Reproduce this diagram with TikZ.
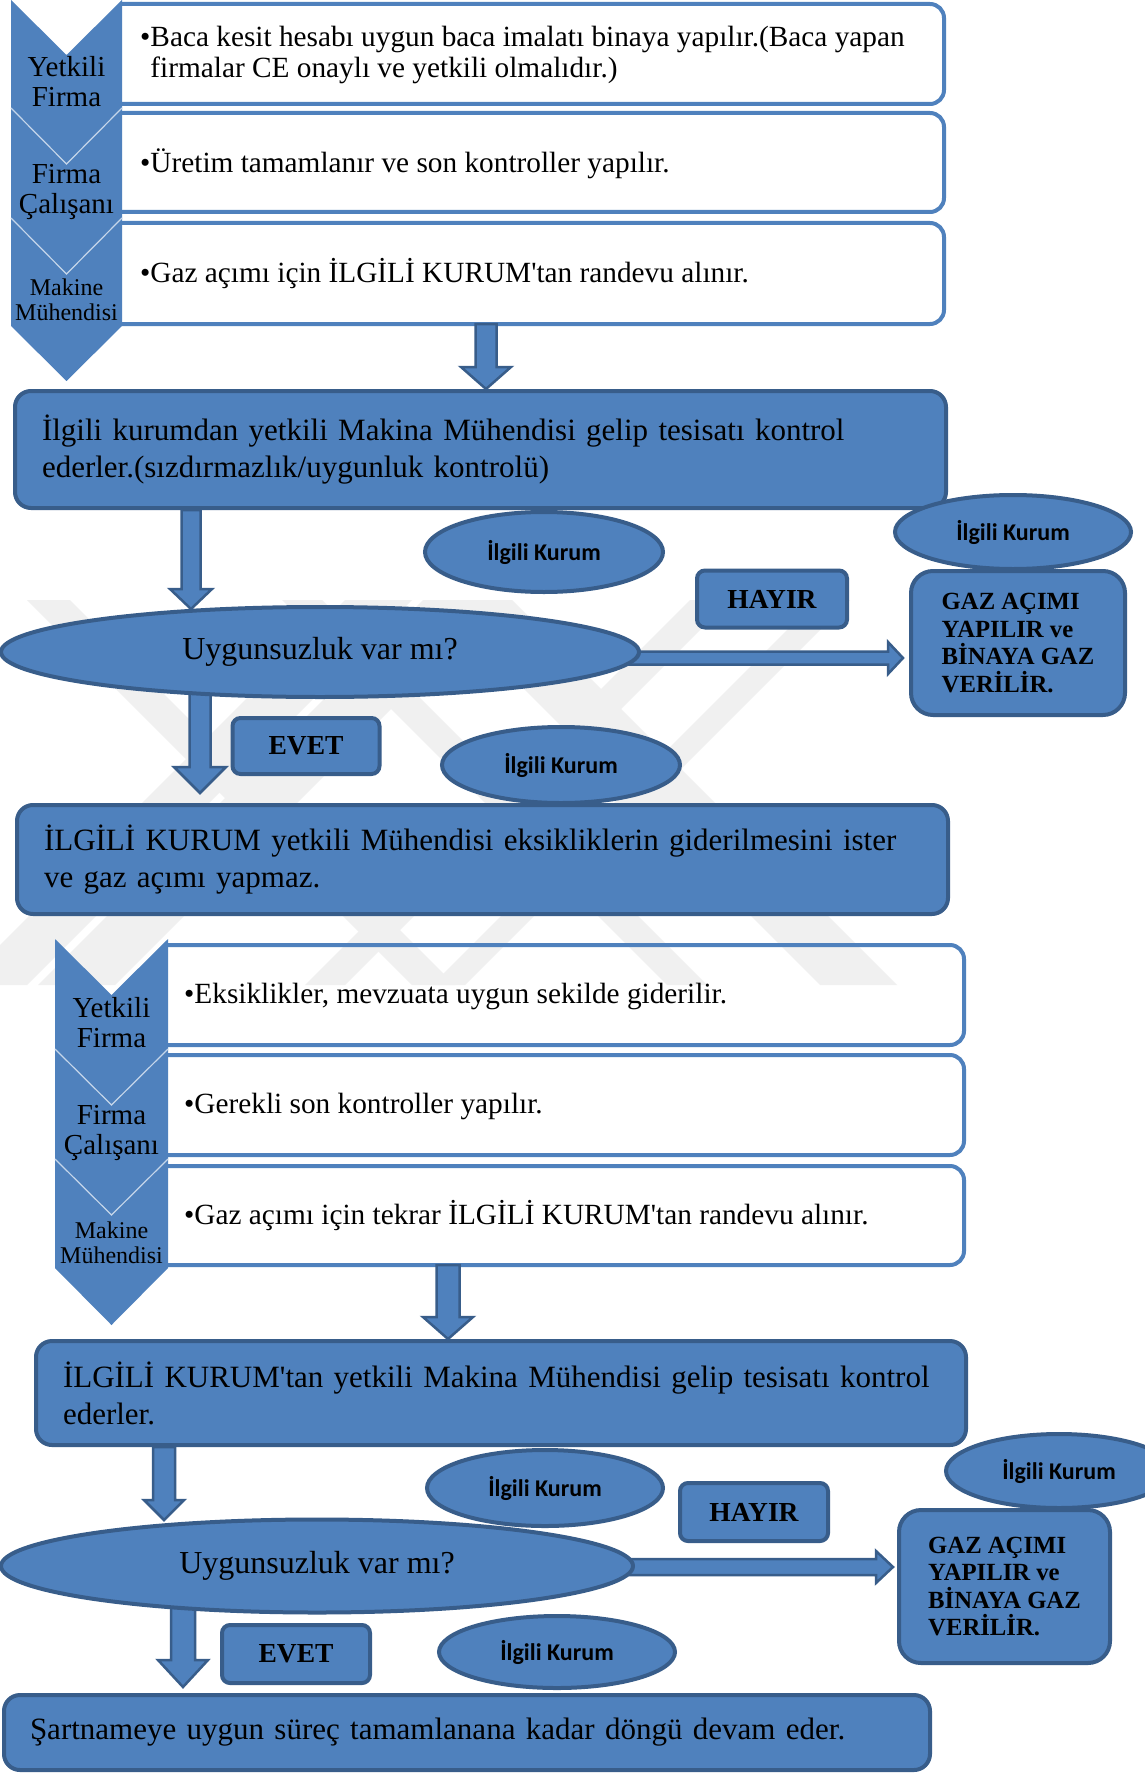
\documentclass[tikz,border=0pt]{standalone}
\usepackage{fontspec}
\setmainfont{Liberation Serif}
\newfontfamily\calib{Carlito}
\usetikzlibrary{shapes.geometric,calc}
\definecolor{bF}{HTML}{4F81BD}
\definecolor{bD}{HTML}{385D8A}
\definecolor{sepc}{HTML}{C6D6EA}
\definecolor{wmark}{HTML}{F0F0F0}
\newcommand{\vblk}[5]{\draw[barrow] let \p1=(#1), \p2=(#2) in (\x1-#3,\y1) -- (\x1+#3,\y1) -- (\x1+#3,\y2+#5) -- (\x1+#4,\y2+#5) -- (\x1,\y2) -- (\x1-#4,\y2+#5) -- (\x1-#3,\y2+#5) -- cycle;}
\newcommand{\hblk}[5]{\draw[barrow] let \p1=(#1), \p2=(#2) in (\x1,\y1+#3) -- (\x2-#5,\y1+#3) -- (\x2-#5,\y1+#4) -- (\x2,\y1) -- (\x2-#5,\y1-#4) -- (\x2-#5,\y1-#3) -- (\x1,\y1-#3) -- cycle;}
\newcommand{\wframe}[1]{\draw[wline] (#1.north west) -- (#1.north east) -- (#1.south east) -- (#1.south west);}
\newcommand{\bsband}[2]{\fill[wmark] (#1,600) -- (#2,600) -- (#2+385,985) -- (#1+385,985) -- cycle;}
\newcommand{\fsband}[2]{\fill[wmark] (#1,600) -- (#2,600) -- (#2-385,985) -- (#1-385,985) -- cycle;}
\begin{document}
\begin{tikzpicture}[x=1pt,y=-1pt,
 wbox/.style={anchor=north west, inner sep=0pt, outer sep=0pt},
 wline/.style={draw=bF, line width=4pt, rounded corners=14pt},
 wtext/.style={anchor=west, inner sep=0pt, align=left, font=\fontsize{29.3}{31}\selectfont},
 clab/.style={align=center, inner sep=0pt, font=\fontsize{29}{30}\selectfont},
 clabs/.style={align=center, inner sep=0pt, font=\fontsize{24}{25}\selectfont},
 mbox/.style={draw=bD, fill=bF, line width=4pt, rounded corners=16pt, anchor=north west, align=left, inner xsep=27pt, inner ysep=0pt, font=\fontsize{31}{37}\selectfont},
 ik/.style={ellipse, draw=bD, fill=bF, line width=4pt, inner sep=0pt, font=\calib\bfseries\fontsize{24}{28}\selectfont},
 lbox/.style={draw=bD, fill=bF, line width=4pt, rounded corners=8pt, inner sep=0pt, font=\bfseries\fontsize{27.5}{30}\selectfont},
 gbox/.style={draw=bD, fill=bF, line width=4pt, rounded corners=22pt, inner sep=0pt, align=left, font=\bfseries\fontsize{24.7}{27.5}\selectfont},
 dec/.style={ellipse, draw=bD, fill=bF, line width=4pt, inner sep=0pt, font=\fontsize{32}{36}\selectfont},
 barrow/.style={fill=bF, draw=bD, line width=2.5pt, line join=miter},
 chev/.style={fill=bF},
 sepl/.style={draw=sepc, line width=1.2pt}
]
\useasboundingbox (0,0) rectangle (1144,1776);
\fill[white] (0,0) rectangle (1144,1776);

% faint background watermark
\begin{scope}
\clip (0,600) rectangle (1144,985);
\bsband{27}{70}
\bsband{282}{322}
\bsband{435}{512}
\fsband{345}{412}
\fsband{423}{500}
\fsband{690}{730}
\fsband{817}{850}
\end{scope}

% ---------- group 1 ----------
\node[wbox, minimum width=824pt, minimum height=100pt] (b1) at (120,4) {};
\node[wbox, minimum width=824pt, minimum height=99pt] (b2) at (120,113) {};
\node[wbox, minimum width=824pt, minimum height=101pt] (b3) at (120,223) {};
\fill[white] (b1.north west) rectangle (b1.south east);
\fill[white] (b2.north west) rectangle (b2.south east);
\fill[white] (b3.north west) rectangle (b3.south east);
\wframe{b1}\wframe{b2}\wframe{b3}
\node[wtext] (t1) at (140,56) {•\begin{tabular}[t]{@{}l@{}}Baca kesit hesabı uygun baca imalatı binaya yapılır.(Baca yapan\\firmalar CE onaylı ve yetkili olmalıdır.)\end{tabular}};
\node[wtext] (t2) at (140,164) {•Üretim tamamlanır ve son kontroller yapılır.};
\node[wtext] (t3) at (140,274) {•Gaz açımı için İLGİLİ KURUM\textquotesingle tan randevu alınır.};
\fill[chev] (11,0) -- (66.5,55) -- (122,0) -- (122,326) -- (66.5,381) -- (11,326) -- cycle;
\draw[sepl] (11,108) -- (66.5,164) -- (122,108);
\draw[sepl] (11,218) -- (66.5,274) -- (122,218);
\node[clab] (c1) at (66.5,82) {Yetkili\\Firma};
\node[clab] (c2) at (66.5,192) {Firma\\Çalışanı};
\node[clabs] (c3) at (66.5,300) {Makine\\Mühendisi};

\node[mbox, minimum width=931pt, minimum height=117pt, text width=877pt] (m1) at (13,389) {İlgili kurumdan yetkili Makina Mühendisi gelip tesisatı kontrol\\ederler.(sızdırmazlık/uygunluk kontrolü)};

\node[ik, minimum width=238pt, minimum height=80pt] (k1) at (544,552) {İlgili Kurum};
\node[ik, minimum width=236pt, minimum height=74pt] (k2) at (1013,532) {İlgili Kurum};
\node[lbox, minimum width=150pt, minimum height=57pt] (h1) at (772,599) {HAYIR};
\node[gbox, minimum width=214pt, minimum height=144pt] (g1) at (1018,643) {GAZ AÇIMI\\YAPILIR ve\\BİNAYA GAZ\\VERİLİR.};
\node[lbox, minimum width=147pt, minimum height=56pt] (e1) at (306,746) {EVET};
\node[ik, minimum width=238pt, minimum height=76pt] (k3) at (561,765) {İlgili Kurum};
\node[mbox, minimum width=931pt, minimum height=109pt, text width=877pt] (m2) at (15,803) {İLGİLİ KURUM yetkili Mühendisi eksikliklerin giderilmesini ister\\ve gaz açımı yapmaz.};

\coordinate (s3) at (200,680);
\coordinate (tip3) at (200,793);
\vblk{s3}{tip3}{10.5}{26}{26}
\coordinate (hs1) at (600,658);
\hblk{hs1}{[xshift=-6pt]g1.west |- hs1}{6.5}{16}{15}
\node[dec, minimum width=638pt, minimum height=90pt] (d1) at (320,652) {Uygunsuzluk var mı?};

\coordinate (x1) at (486,0);
\vblk{b3.south -| x1}{m1.north -| x1}{10.5}{25}{22}
\coordinate (x2) at (191,0);
\coordinate (tip2) at (191,609);
\vblk{m1.south -| x2}{tip2}{9.5}{21}{20}

% ---------- group 2 ----------
\node[wbox, minimum width=798pt, minimum height=100pt] (b4) at (166,945) {};
\node[wbox, minimum width=798pt, minimum height=100pt] (b5) at (166,1055) {};
\node[wbox, minimum width=798pt, minimum height=99pt] (b6) at (166,1166) {};
\wframe{b4}\wframe{b5}\wframe{b6}
\node[wtext] (t4) at (184,996) {•Eksiklikler, mevzuata uygun sekilde giderilir.};
\node[wtext] (t5) at (184,1106) {•Gerekli son kontroller yapılır.};
\node[wtext] (t6) at (184,1216) {•Gaz açımı için tekrar İLGİLİ KURUM\textquotesingle tan randevu alınır.};
\fill[chev] (55,939) -- (111.5,995) -- (168,939) -- (168,1268) -- (111.5,1325) -- (55,1268) -- cycle;
\draw[sepl] (55,1049) -- (111.5,1105) -- (168,1049);
\draw[sepl] (55,1159) -- (111.5,1215) -- (168,1159);
\node[clab] (c4) at (111.5,1023) {Yetkili\\Firma};
\node[clab] (c5) at (111.5,1133) {Firma\\Çalışanı};
\node[clabs] (c6) at (111.5,1243) {Makine\\Mühendisi};

\node[mbox, minimum width=930pt, minimum height=104pt, text width=876pt] (m3) at (34,1339) {İLGİLİ KURUM\textquotesingle tan yetkili Makina Mühendisi gelip tesisatı kontrol\\ederler.};

\node[ik, minimum width=236pt, minimum height=76pt] (k4) at (545,1488) {İlgili Kurum};
\node[ik, minimum width=226pt, minimum height=74pt] (k5) at (1059,1471) {İlgili Kurum};
\node[lbox, minimum width=148pt, minimum height=58pt] (h2) at (754,1512) {HAYIR};
\node[gbox, minimum width=211pt, minimum height=153pt] (g2) at (1004.5,1586.5) {GAZ AÇIMI\\YAPILIR ve\\BİNAYA GAZ\\VERİLİR.};
\node[lbox, minimum width=148pt, minimum height=58pt] (e2) at (296,1654) {EVET};
\node[ik, minimum width=236pt, minimum height=72pt] (k6) at (557,1652) {İlgili Kurum};
\node[mbox, minimum width=926pt, minimum height=75pt, text width=874pt, inner xsep=26pt] (f) at (2,1693) {Şartnameye uygun süreç tamamlanana kadar döngü devam eder.};

\coordinate (s5) at (183,1595);
\coordinate (tip5) at (183,1687);
\vblk{s5}{tip5}{12}{25}{27}
\coordinate (hs2) at (600,1567);
\hblk{hs2}{[xshift=-4pt]g2.west |- hs2}{8}{16}{17}
\node[dec, minimum width=632pt, minimum height=93pt] (d2) at (317,1566) {Uygunsuzluk var mı?};

\coordinate (x3) at (448,0);
\vblk{b6.south -| x3}{m3.north -| x3}{11.5}{25}{22}
\coordinate (x4) at (164,0);
\coordinate (tip4) at (164,1520);
\vblk{m3.south -| x4}{tip4}{11}{20}{20}
\end{tikzpicture}
\end{document}
